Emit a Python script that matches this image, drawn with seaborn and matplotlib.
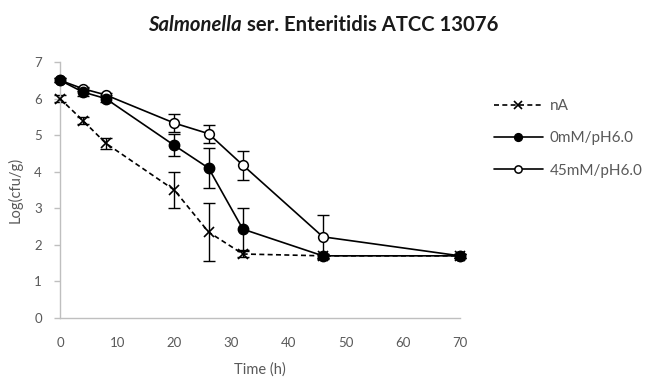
import matplotlib
matplotlib.use("Agg")
import matplotlib.pyplot as plt
import seaborn as sns
import pandas as pd
from matplotlib.lines import Line2D

# Sampling times (h)
time_h = [0, 4, 8, 20, 26, 32, 46, 70]

# Log(cfu/g) means and standard deviations per treatment
na_mean = [6.0, 5.4, 4.78, 3.5, 2.35, 1.75, 1.7, 1.7]
na_sd = [0.1, 0.1, 0.15, 0.5, 0.8, 0.08, 0.05, 0.05]

mm0_mean = [6.5, 6.18, 6.0, 4.72, 4.1, 2.43, 1.7, 1.7]
mm0_sd = [0.05, 0.1, 0.1, 0.3, 0.55, 0.58, 0.05, 0.05]

mm45_mean = [6.5, 6.27, 6.1, 5.33, 5.04, 4.18, 2.22, 1.7]
mm45_sd = [0.05, 0.05, 0.06, 0.24, 0.25, 0.4, 0.6, 0.05]

labels = ["nA", "0mM/pH6.0", "45mM/pH6.0"]

sns.set_theme(style="white")
plt.rcParams["font.family"] = ["Lato", "DejaVu Sans"]

grey = "#595959"
W, H = 651, 378
fig = plt.figure(figsize=(W / 100, H / 100), dpi=100)
ax = fig.add_axes([60 / W, 1 - 318 / H, 400 / W, 256 / H])

series = [
    dict(mean=na_mean, sd=na_sd, label=labels[0], ls=(0, (3, 2)), marker="x",
         ms=7, mfc="black", mew=1.2),
    dict(mean=mm45_mean, sd=mm45_sd, label=labels[2], ls="-", marker="o",
         ms=7, mfc="white", mew=1.1),
    dict(mean=mm0_mean, sd=mm0_sd, label=labels[1], ls="-", marker="o",
         ms=7.5, mfc="black", mew=1.0),
]

handles = {}
for s in series:
    df = pd.DataFrame({"time": time_h, "value": s["mean"]})
    ax.errorbar(time_h, s["mean"], yerr=s["sd"], fmt="none", ecolor="black",
                elinewidth=1.0, capsize=4, capthick=1.0, zorder=2, clip_on=False)
    sns.lineplot(data=df, x="time", y="value", ax=ax, color="black",
                 linestyle=s["ls"], linewidth=1.2, marker=s["marker"],
                 markersize=s["ms"], markerfacecolor=s["mfc"],
                 markeredgecolor="black", markeredgewidth=s["mew"],
                 errorbar=None, zorder=3, clip_on=False)
    handles[s["label"]] = Line2D([], [], color="black", linestyle=s["ls"],
                                 linewidth=1.2, marker=s["marker"],
                                 markersize=s["ms"] * 0.75,
                                 markerfacecolor=s["mfc"],
                                 markeredgecolor="black",
                                 markeredgewidth=s["mew"])

ax.set_xlim(0, 70)
ax.set_ylim(0, 7)
ax.set_xticks(range(0, 71, 10))
ax.set_yticks(range(0, 8))
for side in ("top", "right"):
    ax.spines[side].set_visible(False)
for side in ("left", "bottom"):
    ax.spines[side].set_color("#bfbfbf")
    ax.spines[side].set_linewidth(1.0)
ax.tick_params(axis="y", length=4, width=1, color="#bfbfbf", labelcolor=grey,
               labelsize=9.5, pad=9, left=True)
ax.tick_params(axis="x", length=0, labelcolor=grey, labelsize=9.5, pad=14)

ax.set_xlabel("Time (h)", fontsize=10.5, color=grey, labelpad=9)
ax.set_ylabel("Log(cfu/g)", fontsize=10.5, color=grey, labelpad=8)

# Title: italic genus name followed by upright text, both bold
ty = 1 - 25 / H
t1 = fig.text(148 / W, ty, "Salmonella", ha="left", va="center",
              fontsize=14.6, fontweight="bold", fontstyle="italic", color="#1a1a1a")
fig.canvas.draw()
bb = t1.get_window_extent()
fig.text((bb.x1 + 5) / W, ty, "ser. Enteritidis ATCC 13076",
         ha="left", va="center", fontsize=14.6, fontweight="bold", color="#1a1a1a")

leg = fig.legend([handles[l] for l in labels], labels, loc="upper left",
                 bbox_to_anchor=(494 / W, 1 - 99 / H),
                 bbox_transform=fig.transFigure, frameon=False, fontsize=11,
                 handlelength=3.2, handletextpad=0.45, labelspacing=1.2,
                 borderpad=0, borderaxespad=0)
for t in leg.get_texts():
    t.set_color(grey)

fig.savefig("out.png", dpi=100)
